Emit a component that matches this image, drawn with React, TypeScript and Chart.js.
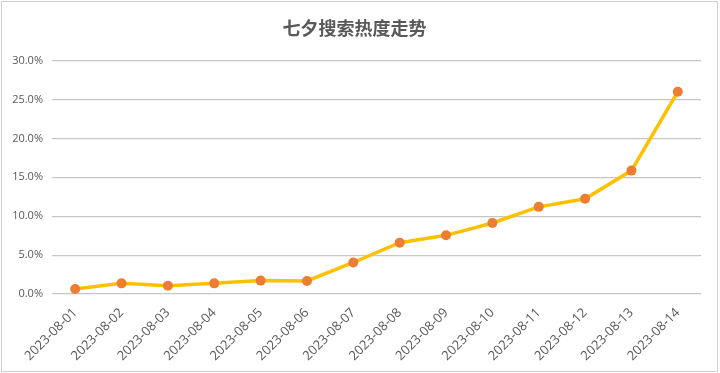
import React, { useEffect, useRef } from "react";
import { Chart, registerables } from "chart.js";

Chart.register(...registerables);

const TITLE = "七夕搜索热度走势";
const categories = [
  "2023-08-01", "2023-08-02", "2023-08-03", "2023-08-04", "2023-08-05",
  "2023-08-06", "2023-08-07", "2023-08-08", "2023-08-09", "2023-08-10",
  "2023-08-11", "2023-08-12", "2023-08-13", "2023-08-14",
];
const heatValues = [0.65, 1.37, 1.07, 1.37, 1.72, 1.68, 4.05, 6.6, 7.54, 9.13, 11.2, 12.24, 15.86, 26.0];
const yTicks = [0, 5, 10, 15, 20, 25, 30];

const borderPlugin = {
  id: "frameBorder",
  afterDraw(chart: any) {
    const ctx = chart.ctx;
    ctx.save();
    ctx.strokeStyle = "#d0d0d0";
    ctx.lineWidth = 1;
    ctx.strokeRect(1.5, 1.5, 716, 370);
    ctx.restore();
  },
};

export default function App() {
  const ref = useRef<HTMLCanvasElement | null>(null);
  useEffect(() => {
    if (!ref.current) return;
    const chart = new Chart(ref.current, {
      type: "line",
      data: {
        labels: categories,
        datasets: [
          {
            data: heatValues,
            borderColor: "#FFC000",
            borderWidth: 3.5,
            pointBackgroundColor: "#ED7D31",
            pointBorderColor: "#ED7D31",
            pointRadius: 5,
            pointBorderWidth: 0,
            tension: 0,
            fill: false,
          },
        ],
      },
      options: {
        responsive: false,
        animation: false,
        layout: { padding: { left: 8, right: 19, top: 17, bottom: 7 } },
        plugins: {
          legend: { display: false },
          tooltip: { enabled: false },
          title: {
            display: true,
            text: TITLE,
            color: "#595959",
            font: { family: "'Noto Sans CJK SC', 'Noto Sans', sans-serif", size: 18, weight: "bold" },
            padding: { top: 0, bottom: 22 },
          },
        },
        scales: {
          x: {
            offset: true,
            grid: { display: false },
            border: { display: false },
            ticks: {
              color: "#595959",
              font: { family: "'Open Sans', 'Liberation Sans', sans-serif", size: 13 },
              minRotation: 45,
              maxRotation: 45,
              autoSkip: false,
              padding: 3,
            },
            afterFit(scale: any) {
              scale.height = 72;
            },
          },
          y: {
            min: 0,
            max: 30,
            afterBuildTicks(scale: any) {
              scale.ticks = yTicks.map((v) => ({ value: v }));
            },
            grid: { color: "#c6c6c6", lineWidth: 1.2, drawTicks: false },
            border: { display: false },
            ticks: {
              color: "#595959",
              font: { family: "'Open Sans', 'Liberation Sans', sans-serif", size: 11 },
              padding: 9,
              callback: (v: any) => Number(v).toFixed(1) + "%",
            },
            afterFit(scale: any) {
              scale.width = 44;
            },
          },
        },
      },
      plugins: [borderPlugin],
    });
    return () => chart.destroy();
  }, []);
  return (
    <div style={{ position: "fixed", left: 0, top: 0, width: 720, height: 373, background: "#fff" }}>
      <canvas ref={ref} width={720} height={373} style={{ display: "block" }} />
    </div>
  );
}
